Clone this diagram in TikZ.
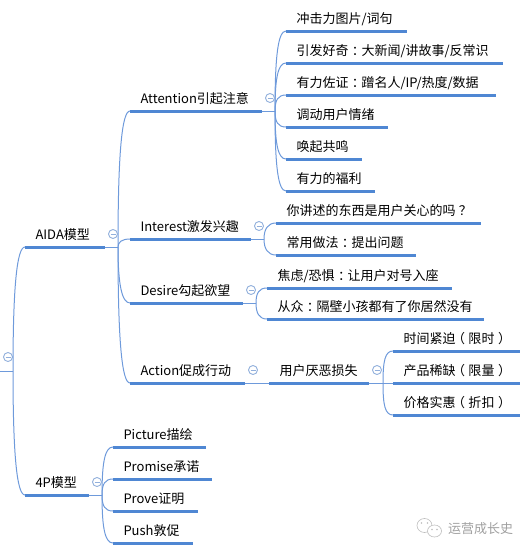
\documentclass[tikz,border=0pt]{standalone}
\usepackage{fontspec}
\setmainfont{Noto Sans CJK SC}
\usetikzlibrary{positioning}
\definecolor{barblue}{HTML}{4F87D3}
\definecolor{linkblue}{HTML}{6E9ADB}
\definecolor{foldblue}{HTML}{92B0DC}
\definecolor{markgray}{HTML}{A0A0A0}
\definecolor{icongray}{HTML}{BDBDBD}
\newcommand{\midp}[1]{\kern3.5pt#1\kern-3.5pt}
\newcommand{\lp}{\kern-3.5pt（\kern3.5pt}
\newcommand{\rp}{\kern3.5pt）\kern-3.5pt}
\tikzstyle{every node}=[font=\fontsize{13}{15}\selectfont]
\tikzstyle{topic}=[text width=#1,align=left,inner xsep=10.5pt,inner ysep=0pt,outer sep=0pt,minimum height=26pt,text height=11.5pt,text depth=1.5pt]
\tikzstyle{sib}=[below=32pt of #1.west,anchor=west]
\tikzstyle{bar}=[draw=barblue,line width=3pt]
\tikzstyle{link}=[draw=linkblue,line width=1pt]
\tikzstyle{fold}=[circle,draw=foldblue,fill=white,line width=.9pt,minimum size=9pt,inner sep=0pt,
  path picture={\draw[foldblue,line width=.9pt] ([xshift=2pt]path picture bounding box.west) -- ([xshift=-2pt]path picture bounding box.east);}]
\tikzstyle{up}=[out=90,in=180,in distance=8pt,out distance=#1]
\tikzstyle{dn}=[out=-90,in=180,in distance=8pt,out distance=#1]

\begin{document}
\begin{tikzpicture}[x=1pt,y=-1pt]
    \useasboundingbox (0,0) rectangle (528,552);
    \coordinate (rootin) at (0,371);
    \coordinate (rootj) at (13,371);
    \node[fold] (rootfold) at (8,357) {};
    % first level
    \node[topic=59pt] (aida) at (25,234) [anchor=west] {AIDA模型};
    \node[topic=43pt,below=248pt of aida.west,anchor=west] (fourp) {4P模型};
    % aida
    \node[topic=111pt,anchor=west] (attn) at (130,98) {Attention引起注意};
    \node[topic=100pt,below=128pt of attn.west,anchor=west] (intr) {Interest激发兴趣};
    \node[topic=92pt,below=64pt of intr.west,anchor=west] (desr) {Desire勾起欲望};
    \node[topic=94pt,below=80pt of desr.west,anchor=west] (actn) {Action促成行动};
    \node[topic=79pt,right=24pt of actn.east,anchor=west] (loss) {用户厌恶损失};
    % attention
    \node[topic=100pt,anchor=west] (hook) at (286,18) {冲击力图片/词句};
    \node[topic=196pt,sib=hook] (odd) {引发好奇\midp{：}大新闻/讲故事/反常识};
    \node[topic=189pt,sib=odd] (proof) {有力佐证\midp{：}蹭名人/IP/热度/数据};
    \node[topic=81pt,sib=proof] (mood) {调动用户情绪};
    \node[topic=55pt,sib=mood] (echo) {唤起共鸣};
    \node[topic=68pt,sib=echo] (gift) {有力的福利};
    % interest
    \node[topic=184pt,anchor=west] (care) at (276,210) {你讲述的东西是用户关心的吗\midp{？}};
    \node[topic=119pt,sib=care] (ask) {常用做法\midp{：}提出问题};
    % desire
    \node[topic=164pt,anchor=west] (fear) at (267,275) {焦虑/恐惧\midp{：}让用户对号入座};
    \node[topic=196pt,below=31pt of fear.west,anchor=west] (herd) {从众\midp{：}隔壁小孩都有了你居然没有};
    % action
    \node[topic=106pt,anchor=west] (time) at (393,338) {时间紧迫\lp{}限时\rp};
    \node[topic=106pt,sib=time] (stock) {产品稀缺\lp{}限量\rp};
    \node[topic=106pt,sib=stock] (price) {价格实惠\lp{}折扣\rp};
    % 4p
    \node[topic=72pt,anchor=west] (pict) at (113,434) {Picture描绘};
    \node[topic=78pt,sib=pict] (prom) {Promise承诺};
    \node[topic=64pt,sib=prom] (prov) {Prove证明};
    \node[topic=59pt,sib=prov] (push) {Push敦促};
    % junctions
    \coordinate[right=13pt of aida.south east] (aidaj);
    \coordinate[right=13pt of attn.south east] (attnj);
    \coordinate[right=13pt of intr.south east] (intrj);
    \coordinate[right=13pt of desr.south east] (desrj);
    \coordinate[right=14pt of loss.south east] (lossj);
    \coordinate[right=13pt of fourp.south east] (fourpj);
    % links
    \draw[link] (rootin) -- (rootj);
    \draw[link] (rootj) to[up=85pt] (aida.south west);
    \draw[link] (rootj) to[dn=85pt] (fourp.south west);
    \foreach \n in {aida,attn,intr,desr,fourp}
        \draw[link] (\n.south east) -- (\n j);
    \draw[link] (actn.south east) -- (loss.south west);
    \draw[link] (loss.south east) -- (lossj);
    \draw[link] (aidaj) to[up=95pt] (attn.south west);
    \draw[link] (aidaj) to[up=5pt] (intr.south west);
    \draw[link] (aidaj) to[dn=38pt] (desr.south west);
    \draw[link] (aidaj) to[dn=95pt] (actn.south west);
    \foreach \n/\d in {hook/55,odd/33,proof/11}
        \draw[link] (attnj) to[up=\d pt] (\n.south west);
    \foreach \n/\d in {mood/11,echo/33,gift/55}
        \draw[link] (attnj) to[dn=\d pt] (\n.south west);
    \draw[link] (intrj) to[up=10pt] (care.south west);
    \draw[link] (intrj) to[dn=10pt] (ask.south west);
    \draw[link] (desrj) to[up=10pt] (fear.south west);
    \draw[link] (desrj) to[dn=10pt] (herd.south west);
    \draw[link] (lossj) to[up=22pt] (time.south west);
    \draw[link] (lossj) -- (stock.south west);
    \draw[link] (lossj) to[dn=22pt] (price.south west);
    \foreach \n/\d in {pict/33,prom/11}
        \draw[link] (fourpj) to[up=\d pt] (\n.south west);
    \foreach \n/\d in {prov/11,push/33}
        \draw[link] (fourpj) to[dn=\d pt] (\n.south west);
    % bars
    \foreach \n in {aida,fourp,attn,intr,desr,actn,loss,hook,odd,proof,mood,echo,gift,care,ask,fear,herd,time,stock,price,pict,prom,prov,push}
        \draw[bar] (\n.south west) -- (\n.south east);
    % fold marks
    \foreach \n in {aida,fourp,attn,intr,desr,actn,loss}
        \node[fold,right=8pt of \n.east,anchor=center] (\n fold) {};
    % watermark
    \node[text=markgray,anchor=west,inner sep=0pt] (mark) at (448,529) {运营成长史};
    \draw[icongray,line width=.6pt] (424.5,525.5) ellipse (7.5 and 7);
    \draw[icongray,line width=.6pt,fill=white] (434.5,531) ellipse (7 and 6);
    \fill[icongray] (421.5,523) circle (.9) (427.5,523) circle (.9) (432,529.5) circle (.8) (437,529.5) circle (.8);
\end{tikzpicture}
\end{document}
